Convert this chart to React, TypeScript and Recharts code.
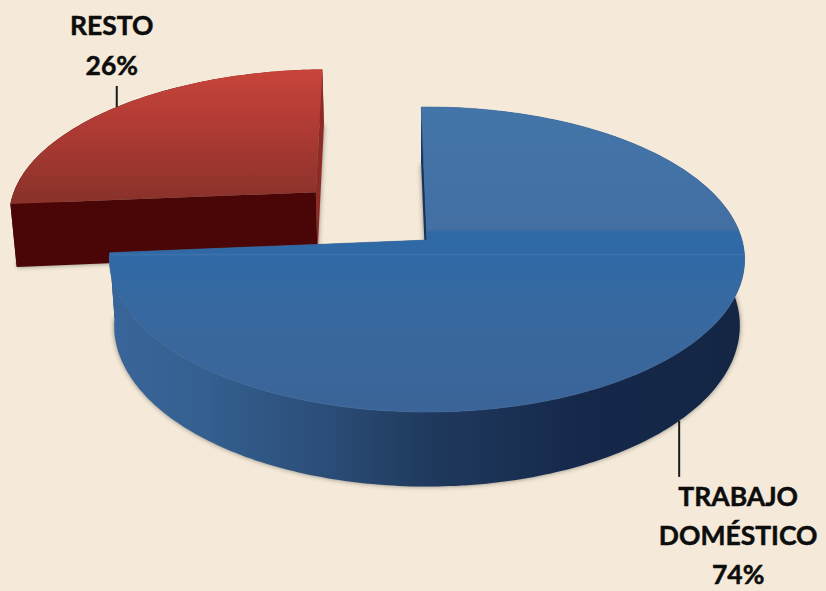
import React from "react";
import { PieChart, Pie } from "recharts";

const categories = ["RESTO", "TRABAJO DOMÉSTICO"];
const values = [26, 74];
const labelLines = [["RESTO"], ["TRABAJO", "DOMÉSTICO"]];
const explodedShare = [0.495, 0];

const data = categories.map((name, i) => ({ name, value: values[i], explode: explodedShare[i], index: i }));

const W = 826;
const H = 591;
const CX = 427;
const CY = 240;
const RADIUS = 315;
const TILT = 150;
const PERSP = 0.128;
const DEPTH = 65;
const BASE_SCALE = 0.985;
const RAD = Math.PI / 180;

const palette = [
  { top: "url(#redTop)", wall: "url(#redWall)", rim: "#4a0606", startCut: "#8f2b26", endCut: "#4a0606" },
  { top: "url(#blueTop)", wall: "url(#blueWall)", rim: "#3f70a6", startCut: "#17345a", endCut: "#17345a" },
];

// Tilted-disc projection: unit disc coordinates -> screen
function proj(cx: number, cy: number, r: number, u: number, v: number, low: boolean) {
  const w = 1 + PERSP * v;
  const k = r / RADIUS;
  const x = cx + (r * u / w) * (low ? BASE_SCALE : 1);
  const y = cy - (TILT * k * v) / w + (low ? DEPTH / w : 0);
  return [x, y];
}

function pts(list: number[][]) {
  return list.map((p, i) => `${i ? "L" : "M"}${p[0].toFixed(1)} ${p[1].toFixed(1)}`).join(" ");
}

function Slice3D(props: any) {
  const { cx, cy, outerRadius, startAngle, endAngle, payload } = props;
  const item = payload?.payload ?? payload;
  const idx = item.index;
  const colors = palette[idx];
  const mid = ((startAngle + endAngle) / 2) * RAD;
  const du = Math.cos(mid) * item.explode;
  const dv = Math.sin(mid) * item.explode;
  const P = (u: number, v: number, low: boolean) => proj(cx, cy, outerRadius, u + du, v + dv, low);
  const angles: number[] = [];
  const steps = Math.ceil(Math.abs(endAngle - startAngle));
  for (let i = 0; i <= steps; i++) angles.push(startAngle + ((endAngle - startAngle) * i) / steps);
  const arc = (low: boolean) => angles.map((a) => P(Math.cos(a * RAD), Math.sin(a * RAD), low));
  const apexT = P(0, 0, false);
  const apexB = P(0, 0, true);
  const topArc = arc(false);
  const lowArc = arc(true);
  const n = topArc.length - 1;
  return (
    <g>
      <path d={pts([apexB, ...lowArc]) + " Z"} fill="#3a3a3a" opacity={0.6} filter="url(#softShadow)" />
      <path d={pts([apexT, topArc[0], lowArc[0], apexB]) + " Z"} fill={colors.startCut} />
      <path d={pts([...topArc, ...[...lowArc].reverse()]) + " Z"} fill={colors.wall} />
      <path d={pts([apexT, topArc[n], lowArc[n], apexB]) + " Z"} fill={colors.endCut} />
      <path d={pts([apexT, ...topArc]) + " Z"} fill={colors.top} stroke={colors.rim} strokeWidth={idx === 1 ? 0.6 : 0} />
    </g>
  );
}

function SliceLabel(props: any) {
  const { cx, cy, outerRadius, midAngle, payload, percent } = props;
  const item = payload?.payload ?? payload;
  const idx = item.index;
  const a = midAngle * RAD;
  const du = Math.cos(a) * (1 + item.explode);
  const dv = Math.sin(a) * (1 + item.explode);
  const rim = proj(cx, cy, outerRadius, du, dv, idx === 1);
  const lines = [...labelLines[idx], `${Math.round(percent * 100)}%`];
  const lineEnd = idx === 0 ? rim[1] - 21 : rim[1] + 56;
  const textX = idx === 0 ? rim[0] - 5 : rim[0] + 59;
  const firstBase = idx === 0 ? 35 : lineEnd + 29;
  const leading = idx === 0 ? 40 : 39;
  return (
    <g>
      <line x1={rim[0]} y1={rim[1]} x2={rim[0]} y2={lineEnd} stroke="#1a1a1a" strokeWidth={2} />
      <text
        textAnchor="middle"
        fontFamily="Lato, 'Open Sans', sans-serif"
        fontWeight={700}
        fontSize={26.5}
        fill="#0d0d0d"
        stroke="#0d0d0d"
        strokeWidth={0.5}
      >
        {lines.map((t, i) => (
          <tspan key={t} x={textX} y={firstBase + i * leading}>
            {t}
          </tspan>
        ))}
      </text>
    </g>
  );
}

export default function App() {
  return (
    <div style={{ position: "fixed", left: 0, top: 0, width: W, height: H, background: "#f5ead9", overflow: "hidden" }}>
      <PieChart width={W} height={H} margin={{ top: 0, right: 0, bottom: 0, left: 0 }}>
        <defs>
          <linearGradient id="redTop" gradientUnits="userSpaceOnUse" x1="0" y1="68" x2="0" y2="198">
            <stop offset="0" stopColor="#c9443b" />
            <stop offset="0.5" stopColor="#ac3a33" />
            <stop offset="1" stopColor="#8b322b" />
          </linearGradient>
          <linearGradient id="redWall" gradientUnits="userSpaceOnUse" x1="0" y1="0" x2="326" y2="0">
            <stop offset="0.5" stopColor="#4a0606" />
            <stop offset="0.9" stopColor="#8f2b26" />
            <stop offset="1" stopColor="#8f2b26" />
          </linearGradient>
          <linearGradient id="blueTop" gradientUnits="userSpaceOnUse" x1="0" y1="107" x2="0" y2="412">
            <stop offset="0" stopColor="#4375a9" />
            <stop offset="0.4" stopColor="#436fa3" />
            <stop offset="0.41" stopColor="#2f6aa6" />
            <stop offset="0.48" stopColor="#3069a5" />
            <stop offset="0.482" stopColor="#3f74ad" />
            <stop offset="0.49" stopColor="#3069a5" />
            <stop offset="0.65" stopColor="#3769a0" />
            <stop offset="1" stopColor="#3b6498" />
          </linearGradient>
          <linearGradient id="blueWall" gradientUnits="userSpaceOnUse" x1="110" y1="0" x2="745" y2="0">
            <stop offset="0" stopColor="#39659a" />
            <stop offset="0.15" stopColor="#345f90" />
            <stop offset="0.35" stopColor="#2b4c76" />
            <stop offset="0.5" stopColor="#1f3a5e" />
            <stop offset="0.75" stopColor="#15284a" />
            <stop offset="1" stopColor="#142644" />
          </linearGradient>
          <filter id="softShadow" x="-10%" y="-10%" width="120%" height="120%">
            <feGaussianBlur stdDeviation="2.5" />
          </filter>
        </defs>
        <Pie
          data={data}
          dataKey="value"
          nameKey="name"
          cx={CX}
          cy={CY}
          innerRadius={0}
          outerRadius={RADIUS}
          startAngle={91.2}
          endAngle={451.2}
          stroke="none"
          shape={Slice3D}
          label={SliceLabel}
          labelLine={false}
          isAnimationActive={false}
        />
      </PieChart>
    </div>
  );
}
